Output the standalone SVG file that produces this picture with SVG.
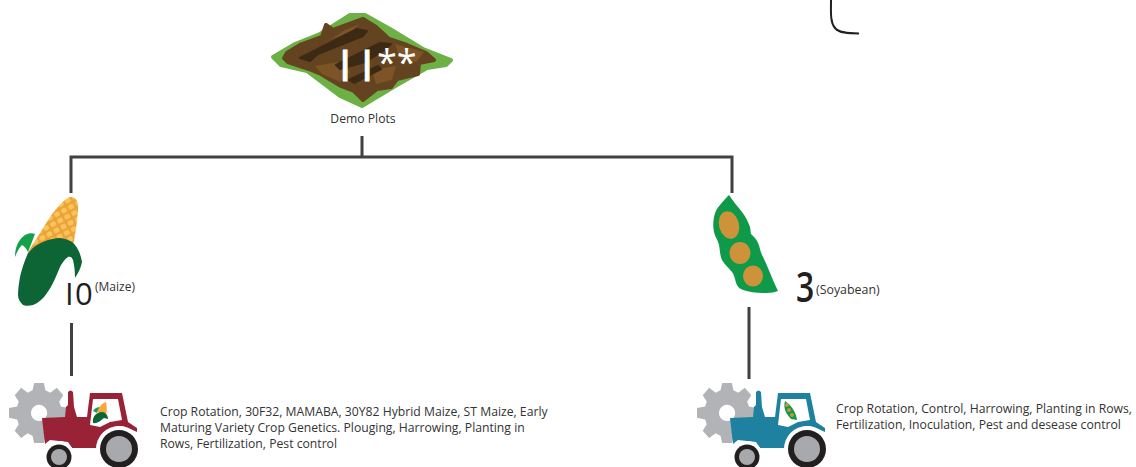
<svg xmlns="http://www.w3.org/2000/svg" width="1136" height="467" viewBox="0 0 1136 467">
<style>
.t{font-family:"Open Sans","Noto Sans","Liberation Sans",sans-serif;fill:#333}
.b{font-size:12.2px}
.c{fill:none;stroke:#414042;stroke-width:3}
.gear{fill:#b1b3b6}
.tyre{fill:#231f20}
.hub{fill:#a7a9ac}
.wh{fill:#fff}
.soft{stroke-linejoin:round;stroke-width:4}
</style>
<defs>
<pattern id="kernels" width="8" height="7" patternUnits="userSpaceOnUse" patternTransform="rotate(-28 60 220)">
<rect width="8" height="7" fill="#eca238"/>
<rect x="1" y="1" width="6" height="5" rx="2" fill="#f9c45a"/>
</pattern>
<g id="gearShape">
<path class="gear" d="M34 9 L46 9 L48 18 L54 21 L62 15 L70 24 L65 32 L67 38 L77 40 L77 52 L67 54 L65 60 L70 68 L62 76 L54 71 L48 74 L46 83 L34 83 L32 74 L26 71 L18 77 L10 68 L15 60 L13 54 L3 52 L3 40 L13 38 L15 32 L10 24 L18 15 L26 21 L32 18 Z M40 36 A10 10 0 1 0 40.100 36 Z" fill-rule="evenodd"/>
</g>
<path id="tractorBody" fill-rule="evenodd" d="M68 392Q70.500 389 73 392L74 407L77 417H87L90 393H122L128 422L137 428V432L128 428C120 424 112 426 107 432C102 437 99 442 98 448H72L68 442L50 440L45 444L42 418L65 417L66 407L68 405ZM93 399L90 425L100 427L110 422L122 420L118 399Z"/>
<g id="wheels">
<circle class="wh" cx="119" cy="449" r="23"/><circle class="wh" cx="59" cy="457" r="16"/>
<circle class="tyre" cx="119" cy="449" r="19"/><circle class="hub" cx="119" cy="449" r="13"/>
<circle class="tyre" cx="59" cy="457" r="12.500"/><circle class="hub" cx="59" cy="457" r="8"/>
</g>
</defs>
<g id="connectors">
<path class="c" d="M362 136V157M71 193V157H732V193"/>
<path class="c" d="M71.500 323V376M749 307V379"/>
<path fill="none" stroke="#231f20" stroke-width="2" d="M831 0C831 12 830 22 835 28C839 33 848 33.500 859 33.500"/>
</g>
<g id="demo-plots">
<path fill="#6db045" stroke="#6db045" class="soft" d="M273 57L295 44L320 34L350 15L365 15L390 29L423 49L451 60L446 65L427 68L397 85L362 106L340 96L307 71L281 65Z"/>
<path fill="#644420" stroke="#644420" class="soft" d="M284 58L287 53L300 45L322 37L326 25L333 30L363 19L376 27L389 39L407 45L426 53L434 60L419 63L418 74L397 79L391 87L377 89L363 100L354 91L341 86L321 74L309 69L288 62Z"/>
<path fill="#7d5426" d="M315 66L338 62L350 72L340 82L322 74ZM395 44L424 52L416 62L400 58ZM372 70L396 66L392 80L376 84ZM330 40L345 30L360 24L350 32Z"/>
<path fill="#3d2a14" stroke="#3d2a14" stroke-width="2" stroke-linejoin="round" d="M300 58L357 29L367 31L363 36L318 54L310 61Z"/>
<path fill="#3d2a14" stroke="#3d2a14" stroke-width="2" stroke-linejoin="round" d="M336 65L380 43L391 44L383 51L365 62L340 69Z"/>
<path fill="#3d2a14" stroke="#3d2a14" stroke-width="2" stroke-linejoin="round" d="M349 80L378 66L381 69L354 83Z"/>
<text class="t" x="339" y="81" font-size="44" style="fill:#fff;stroke:#fff;stroke-width:1">I<tspan x="361">I</tspan></text>
<text class="t" x="377" y="75" font-size="36" style="fill:#fff">**</text>
<text class="t b" x="363" y="123" text-anchor="middle">Demo Plots</text>
</g>
<g id="maize">
<path fill="url(#kernels)" d="M28 252L50 217C58 206 66 198 70 197C76 196 79 202 78 210C77 224 75 236 73 246Z"/>
<path fill="#13a14b" d="M15 257C15 248 18 240 25 235C29 233 32 233 35 234L28 252C26 248 24 246 22 245C19 248 17 252 15 257Z"/>
<path fill="#0d6535" d="M28 253C33 247 38 244 43 242C50 239 55 238 60 238C67 239 72 241 75 245C79 250 81 256 82 262C81 268 78 273 75 278C75 270 74 264 73 260C72 257 70 256 68 257C65 259 62 263 60 267C56 277 52 286 47 293C43 299 38 303 33 305C29 306 25 306 23 305C20 302 18 299 18 295C18 289 19 283 20 277C22 268 25 260 28 253Z"/>
<text class="t" x="65" y="305" font-size="31" style="fill:#231f20">I<tspan x="75">0</tspan></text>
<text class="t" x="95" y="291" font-size="12">(Maize)</text>
</g>
<g id="soybean">
<path fill="#0e9a48" d="M729 195C733 201 738 207 742 212C746 217 748 222 750 227C751 231 750 233 752 235C755 238 757 240 758 243C760 247 760 251 762 255C764 259 766 263 768 268C771 275 774 283 778 291C773 293 768 293 763 293C756 293 749 292 743 290C740 289 738 287 737 285C735 281 735 276 732 272C729 268 725 265 722 260C720 256 720 250 719 245C718 240 715 237 714 232C713 227 713 222 714 217C715 212 717 208 720 205C723 201 726 198 729 195Z"/>
<ellipse cx="729" cy="225" rx="10" ry="14" fill="#cd923a" transform="rotate(-15 729 225)"/>
<ellipse cx="740" cy="253" rx="10.500" ry="11" fill="#cd923a"/>
<ellipse cx="753" cy="276" rx="10" ry="10.500" fill="#cd923a"/>
<text class="t" transform="translate(796 302) scale(.76 1)" font-size="42" font-weight="600" style="fill:#231f20">3</text>
<text class="t" x="816" y="294" font-size="12.400">(Soyabean)</text>
</g>
<g id="maize-practices">
<use href="#gearShape" transform="translate(6.600 375.700) scale(.81)"/>
<use href="#tractorBody" fill="#9a2236"/>
<path fill="#13a14b" d="M93 411C95 408 97 407 100 407L97 413Z"/>
<path fill="#f6a83b" d="M97 412C99 407 102 403 106 402C107 406 107 411 106 415Z"/>
<path fill="#0d6535" d="M93 423C92 417 96 412 102 412C106 412 108 416 108 419L104 418C101 420 98 424 93 423Z"/>
<use href="#wheels"/>
<text class="t b" x="160" y="416">Crop Rotation, 30F32, MAMABA, 30Y82 Hybrid Maize, ST Maize, Early</text>
<text class="t b" x="160" y="432">Maturing Variety Crop Genetics. Plouging, Harrowing, Planting in</text>
<text class="t b" x="160" y="448">Rows, Fertilization, Pest control</text>
</g>
<g id="soybean-practices">
<use href="#gearShape" transform="translate(694.600 375.700) scale(.81)"/>
<use href="#tractorBody" x="688" fill="#1e81a0"/>
<path fill="#0e9a48" d="M785 401C791 405 796 412 797 420L791 419C786 414 783 408 785 401Z"/>
<g fill="#cd923a"><circle cx="787" cy="405" r="2"/><circle cx="789" cy="410" r="2"/><circle cx="792" cy="415" r="2"/></g>
<use href="#wheels" x="688"/>
<text class="t b" x="836" y="413">Crop Rotation, Control, Harrowing, Planting in Rows,</text>
<text class="t b" x="836" y="429">Fertilization, Inoculation, Pest and desease control</text>
</g>
</svg>
